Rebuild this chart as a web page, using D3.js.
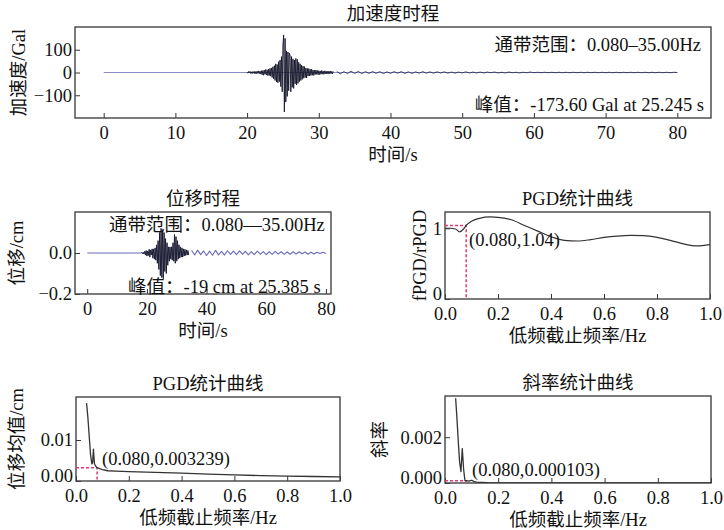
<!DOCTYPE html>
<html lang="zh">
<head>
<meta charset="UTF-8">
<title>强震记录分析</title>
<script src="https://d3js.org/d3.v7.min.js"></script>
<style>
  body { margin: 0; background: #fff; }
  svg text { font-family: "Liberation Serif", "Noto Sans CJK SC", serif; fill: #111; }
</style>
</head>
<body>
<div id="chart"></div>
<script>
// ---- 数据 ----
// 加速度时程 (Gal)：20.0–32.0 s 每 0.1 s 一个采样
const accStart = 20, accStep = 0.1;
const accMain = [
  1,-3,4,-2,5,-4,3,-5,4,-3,
  5,-6,4,-5,6,-4,7,-5,6,-7,
  8,-10,9,-12,10,-8,13,-11,12,-14,
  15,-13,18,-16,20,-22,25,-28,30,-35,
  38,-42,35,-45,48,-40,55,-62,70,-85,
  120,165,-173.6,150,-130,95,-105,90,-80,85,
  75,-85,70,-65,60,-70,55,-50,62,-55,
  58,-48,45,-40,38,-35,32,-30,28,-25,
  26,-22,20,-24,18,-16,17,-15,14,-13,
  15,-12,11,-13,10,-9,11,-8,9,-10,
  8,-9,7,-8,9,-7,6,-8,7,-6,
  7,-6,5,-7,6,-5,6,-5,5,-6,
  5
];
// 加速度尾部：32.5–80 s 每 0.5 s
const accTailStart = 32.5, accTailStep = 0.5;
const accTail = [
  5,-6,4,-5,6,-4,5,-5,4,-4,
  5,-4,4,-5,3,-4,4,-3,4,-4,
  3,-4,3,-3,4,-3,3,-3,3,-2,
  3,-3,2,-3,2,-2,3,-2,2,-2,
  2,-2,2,-1,2,-2,1,-2,2,-1,
  1,-2,1,-1,2,-1,1,-1,1,-1,
  1,-1,1,-1,1,-1,1,-1,1,-1,
  1,-1,1,-1,1,-1,1,-1,1,-1,
  1,-1,1,-1,1,-1,1,-1,1,-1,
  1,-1,1,-1,1,0
];
const recordSpan = [0, 80];

// 位移时程 (cm)：18–34 s 每 0.25 s
const dispStart = 18, dispStep = 0.25;
const dispMain = [
  0,0.002,-0.003,0.004,-0.005,0.008,-0.01,0.012,
  -0.015,0.01,-0.012,0.018,-0.02,0.015,-0.01,0.02,
  -0.025,0.02,-0.03,0.025,-0.035,0.04,-0.05,0.06,
  -0.08,0.1,-0.11,0.12,-0.12,0.11,-0.125,0.1,
  -0.09,0.07,-0.1,0.05,-0.06,0.03,-0.04,0.03,
  -0.03,0.03,-0.035,0.05,-0.04,0.09,-0.05,0.08,
  -0.04,0.06,-0.03,0.04,-0.025,0.03,-0.02,0.025,
  -0.02,0.02,-0.015,0.018,-0.012,0.015,-0.01,0.012,
  -0.01
];
// 位移尾部：35–80 s 每 1 s
const dispTailStart = 35, dispTailStep = 1;
const dispTail = [
  0.012,-0.01,0.014,-0.008,0.01,-0.012,0.009,-0.011,0.013,-0.009,
  0.008,-0.01,0.011,-0.007,0.009,-0.008,0.01,-0.006,0.008,-0.009,
  0.007,-0.008,0.009,-0.006,0.007,-0.008,0.006,-0.007,0.008,-0.005,
  0.006,-0.007,0.005,-0.006,0.007,-0.005,0.006,-0.004,0.005,-0.006,
  0.004,-0.005,0.004,-0.003,0.004,-0.003
];

// PGD 比值曲线
const ratioFreq = [0,0.02,0.04,0.055,0.07,0.08,0.1,0.13,0.17,0.2,0.25,0.3,0.35,0.4,0.45,0.5,0.55,0.6,0.65,0.7,0.75,0.8,0.85,0.9,0.95,1.0];
const ratioVal  = [1.0,1.0,0.99,0.95,0.99,1.04,1.1,1.14,1.16,1.155,1.12,1.04,0.96,0.88,0.83,0.82,0.84,0.87,0.89,0.9,0.895,0.87,0.83,0.78,0.75,0.77];

// PGD 位移均值曲线
const pgdFreq = [0.04,0.045,0.05,0.055,0.06,0.063,0.066,0.07,0.075,0.08,0.09,0.1,0.12,0.15,0.2,0.3,0.4,0.5,0.6,0.7,0.8,0.9,1.0];
const pgdVal  = [0.019,0.0155,0.011,0.0065,0.0042,0.0045,0.0078,0.0042,0.0036,0.003239,0.003,0.0028,0.0025,0.0024,0.0023,0.0021,0.0019,0.0017,0.0015,0.0013,0.0012,0.0011,0.001];

// 斜率曲线
const slopeFreq = [0.04,0.045,0.05,0.055,0.06,0.065,0.07,0.075,0.08,0.09,0.1,0.11,0.12,0.14,0.16,0.2,0.3,1.0];
const slopeVal  = [0.0037,0.0028,0.0018,0.0009,0.0005,0.0015,0.0006,0.0001,0.000103,0.00008,0.00012,0.00006,0.00004,0.00003,0.00001,0,0,0];

// 选定的截止频率点
const cutFreq = 0.08;
const cutRatio = 1.04, cutPgd = 0.003239, cutSlope = 0.000103;

const timeTicks = [0,10,20,30,40,50,60,70,80];
const timeTicks2 = [0,20,40,60,80];
const freqTicks = [0,0.2,0.4,0.6,0.8,1.0];

// 采样序列 -> [t, v]
const series = (start, step, vals) => vals.map((v, i) => [start + i * step, v]);

const svg = d3.select("#chart").append("svg")
  .attr("width", 724).attr("height", 530);

const fs = 18.5;
const red = "#e23a72";

// 一个坐标区：边框 + 内向刻度 + 标签
function panel(o) {
  const x = d3.scaleLinear().domain(o.xd).range([o.l, o.r]);
  const y = d3.scaleLinear().domain(o.yd).range([o.b, o.t]);
  const g = svg.append("g");

  const xa = d3.axisBottom(x).tickValues(o.xt).tickSize(-5).tickPadding(8).tickFormat(o.xf);
  const ya = d3.axisLeft(y).tickValues(o.yt).tickSize(-5).tickPadding(3).tickFormat(o.yf);
  g.append("g").attr("transform", `translate(0,${o.b})`).call(xa);
  const yg = g.append("g").attr("transform", `translate(${o.l},0)`).call(ya);
  g.selectAll(".domain").remove();
  g.selectAll(".tick line").attr("stroke", "#333").attr("stroke-width", 1);
  g.selectAll(".tick text").style("font-size", fs + "px").attr("fill", "#111");
  // 角落处的 0 标签略微上移，避免与横轴标签相叠
  if (o.y0up) yg.selectAll(".tick text").filter(d => d === 0).attr("dy", "0em");

  g.append("rect").attr("x", o.l).attr("y", o.t)
    .attr("width", o.r - o.l).attr("height", o.b - o.t)
    .attr("fill", "none").attr("stroke", "#444").attr("stroke-width", 1.4);

  g.append("text").attr("x", (o.l + o.r) / 2).attr("y", o.t - 7)
    .attr("text-anchor", "middle").style("font-size", fs + "px").text(o.title);
  g.append("text").attr("x", (o.l + o.r) / 2).attr("y", o.b + 43)
    .attr("text-anchor", "middle").style("font-size", fs + "px").text(o.xl);
  g.append("text").attr("transform", `translate(${o.yx},${(o.t + o.b) / 2}) rotate(-90)`)
    .attr("text-anchor", "middle").attr("dy", "0.35em").style("font-size", fs + "px").text(o.yl);

  const clip = "clip" + Math.round(o.l) + "_" + Math.round(o.t);
  svg.append("clipPath").attr("id", clip).append("rect")
    .attr("x", o.l).attr("y", o.t).attr("width", o.r - o.l).attr("height", o.b - o.t);
  const plot = g.append("g").attr("clip-path", `url(#${clip})`);
  return { x, y, g, plot };
}

function drawLine(p, pts, color, w, curve) {
  const line = d3.line().x(d => p.x(d[0])).y(d => p.y(d[1]));
  if (curve) line.curve(curve);
  p.plot.append("path").datum(pts).attr("d", line)
    .attr("fill", "none").attr("stroke", color).attr("stroke-width", w)
    .attr("stroke-linejoin", "round");
}

function cutMark(p, fx, fy) {
  const pts = [[p.x.domain()[0], fy], [fx, fy], [fx, p.y.domain()[0]]];
  p.plot.append("path").datum(pts)
    .attr("d", d3.line().x(d => p.x(d[0])).y(d => p.y(d[1])))
    .attr("fill", "none").attr("stroke", red).attr("stroke-width", 1.5)
    .attr("stroke-dasharray", "3,2");
}

const fmtMinus = d => (d < 0 ? "\u2212" : "") + Math.abs(d);

// ---- 加速度时程 ----
const p1 = panel({ l: 75, r: 711, t: 27, b: 118, xd: [-4, 84.7], yd: [-200, 200],
  xt: timeTicks, yt: [-100, 0, 100], xf: d => d, yf: fmtMinus,
  title: "加速度时程", xl: "时间/s", yl: "加速度/Gal", yx: 19 });
drawLine(p1, recordSpan.map(t => [t, 0]), "#8a8cc8", 1.2);
drawLine(p1, series(accStart, accStep, accMain), "#15152a", 0.9);
drawLine(p1, series(accTailStart, accTailStep, accTail), "#262648", 0.8);
p1.g.append("text").attr("x", 701).attr("y", 51).attr("text-anchor", "end")
  .style("font-size", fs + "px").text("通带范围：0.080\u201335.00Hz");
p1.g.append("text").attr("x", 704).attr("y", 111).attr("text-anchor", "end")
  .style("font-size", fs + "px").text("峰值：-173.60 Gal at 25.245 s");

// ---- 位移时程 ----
const p2 = panel({ l: 75, r: 331, t: 212, b: 294, xd: [-4.1, 81.7], yd: [-0.2, 0.2],
  xt: timeTicks2, yt: [-0.2, 0], xf: d => d, yf: d => (d < 0 ? "\u2212" : "") + Math.abs(d).toFixed(1),
  title: "位移时程", xl: "时间/s", yl: "位移/cm", yx: 17 });
drawLine(p2, [[0, 0], [dispStart, 0]], "#6a6cb8", 1.2);
drawLine(p2, series(dispTailStart, dispTailStep, dispTail), "#6a6cb8", 1.1);
drawLine(p2, series(dispStart, dispStep, dispMain), "#1c1c34", 1.0);
p2.g.append("text").attr("x", 109).attr("y", 231)
  .style("font-size", fs + "px").text("通带范围：0.080\u201435.00Hz");
p2.g.append("text").attr("x", 128).attr("y", 293)
  .style("font-size", fs + "px").text("峰值：-19 cm at 25.385 s");

// ---- PGD 比值 ----
const p3 = panel({ l: 445, r: 710, t: 212, b: 299, xd: [0, 1], yd: [0, 1.23],
  xt: freqTicks, yt: [0, 1], xf: d3.format(".1f"), yf: d => d, y0up: true,
  title: "PGD统计曲线", xl: "低频截止频率/Hz", yl: "fPGD/rPGD", yx: 420 });
cutMark(p3, cutFreq, cutRatio);
drawLine(p3, ratioFreq.map((f, i) => [f, ratioVal[i]]), "#333", 1.2, d3.curveMonotoneX);
p3.g.append("text").attr("x", 469).attr("y", 246)
  .style("font-size", fs + "px").text(`(${cutFreq.toFixed(3)},${cutRatio.toFixed(2)})`);

// ---- PGD 位移均值 ----
const p4 = panel({ l: 76, r: 340, t: 397, b: 481, xd: [0, 1], yd: [0, 0.0205],
  xt: freqTicks, yt: [0, 0.01], xf: d3.format(".1f"), yf: d3.format(".2f"), y0up: true,
  title: "PGD统计曲线", xl: "低频截止频率/Hz", yl: "位移均值/cm", yx: 17 });
cutMark(p4, cutFreq, cutPgd);
drawLine(p4, pgdFreq.map((f, i) => [f, pgdVal[i]]), "#333", 1.3);
p4.g.append("text").attr("x", 102).attr("y", 465)
  .style("font-size", fs + "px").text(`(${cutFreq.toFixed(3)},${cutPgd.toFixed(6)})`);

// ---- 斜率 ----
const p5 = panel({ l: 445, r: 711, t: 396, b: 483, xd: [0, 1], yd: [0, 0.0038],
  xt: freqTicks, yt: [0, 0.002], xf: d3.format(".1f"), yf: d3.format(".3f"), y0up: true,
  title: "斜率统计曲线", xl: "低频截止频率/Hz", yl: "斜率", yx: 380 });
cutMark(p5, cutFreq, cutSlope);
drawLine(p5, slopeFreq.map((f, i) => [f, slopeVal[i]]), "#333", 1.3);
p5.g.append("text").attr("x", 472).attr("y", 476)
  .style("font-size", fs + "px").text(`(${cutFreq.toFixed(3)},${cutSlope.toFixed(6)})`);
</script>
</body>
</html>
